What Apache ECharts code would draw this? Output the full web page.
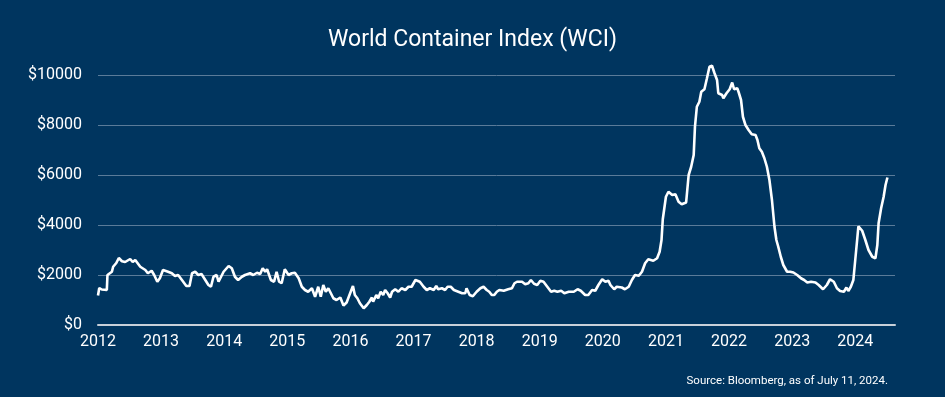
<!DOCTYPE html>
<html>
<head>
<meta charset="utf-8">
<script src="https://cdn.jsdelivr.net/npm/echarts@6/dist/echarts.min.js"></script>
<style>
html,body{margin:0;padding:0;background:#00355f;}
#c{width:945px;height:397px;}
</style>
</head>
<body>
<div id="c"></div>
<script>
// Decimal years (x) and WCI values in USD per 40ft container (y)
const years = [
2012.00,2012.02,2012.06,2012.14,2012.15,2012.22,2012.24,2012.29,2012.33,2012.38,2012.43,2012.51,2012.55,2012.59,2012.67,2012.75,2012.79,2012.85,2012.89,2012.94,2012.98,
2013.03,2013.06,2013.11,2013.17,2013.22,2013.27,2013.33,2013.40,2013.45,2013.49,2013.54,2013.59,2013.64,2013.70,2013.75,2013.79,2013.83,2013.88,2013.91,2013.99,
2014.07,2014.12,2014.17,2014.22,2014.28,2014.33,2014.41,2014.46,2014.52,2014.57,2014.61,2014.65,2014.68,2014.74,2014.79,2014.83,2014.87,2014.91,2014.96,
2015.02,2015.07,2015.12,2015.18,2015.23,2015.28,2015.33,2015.39,2015.44,2015.49,2015.53,2015.57,2015.61,2015.65,2015.69,2015.73,2015.78,2015.84,2015.89,2015.94,
2016.00,2016.04,2016.07,2016.11,2016.15,2016.21,2016.26,2016.30,2016.34,2016.36,2016.41,2016.44,2016.48,2016.52,2016.55,2016.59,2016.63,2016.66,2016.71,2016.76,2016.81,2016.87,2016.92,2016.97,
2017.03,2017.06,2017.10,2017.16,2017.21,2017.26,2017.32,2017.36,2017.39,2017.45,2017.50,2017.54,2017.59,2017.64,2017.71,2017.77,2017.82,2017.84,2017.89,2017.94,
2018.00,2018.06,2018.11,2018.16,2018.20,2018.24,2018.28,2018.32,2018.36,2018.43,2018.50,2018.56,2018.60,2018.64,2018.72,2018.77,2018.82,2018.86,2018.91,2018.96,
2019.01,2019.06,2019.12,2019.18,2019.23,2019.28,2019.34,2019.39,2019.46,2019.54,2019.60,2019.65,2019.72,2019.77,2019.83,2019.88,2019.93,2019.99,
2020.04,2020.09,2020.12,2020.18,2020.22,2020.30,2020.35,2020.41,2020.46,2020.51,2020.57,2020.62,2020.67,2020.72,2020.80,2020.86,2020.90,2020.93,2020.95,2020.97,
2021.00,2021.04,2021.10,2021.15,2021.20,2021.25,2021.32,2021.36,2021.40,2021.44,2021.46,2021.49,2021.53,2021.56,2021.61,2021.65,2021.69,2021.73,2021.77,2021.81,2021.83,2021.89,2021.91,2021.96,
2022.01,2022.05,2022.08,2022.13,2022.15,2022.19,2022.22,2022.26,2022.31,2022.36,2022.42,2022.45,2022.48,2022.52,2022.56,2022.60,2022.64,2022.68,2022.72,2022.75,2022.78,2022.82,2022.86,2022.92,2022.97,
2023.02,2023.08,2023.14,2023.19,2023.24,2023.30,2023.37,2023.42,2023.49,2023.55,2023.60,2023.66,2023.71,2023.76,2023.82,2023.86,2023.89,2023.93,2023.97,
2024.00,2024.03,2024.05,2024.11,2024.16,2024.21,2024.27,2024.32,2024.35,2024.37,2024.41,2024.45,2024.48,2024.51
];
const wci = [
1180,1480,1420,1400,2000,2130,2330,2480,2680,2550,2520,2640,2520,2600,2330,2200,2070,2170,2000,1730,1870,
2200,2270,2130,2070,1960,2000,1800,1560,1560,2070,2130,2000,2040,1800,1600,1530,1930,2000,1730,2130,
2360,2270,1930,1800,1930,2000,2070,2000,2090,2040,2270,2130,2230,1800,1730,2130,1730,1670,2230,
2000,2070,2090,1870,1530,1400,1330,1470,1130,1530,1130,1600,1330,1470,1270,1070,1000,1100,780,900,
1300,1560,1200,1070,870,670,800,930,1100,930,1200,1070,1330,1200,1400,1270,1100,1330,1430,1330,1470,1400,1530,1530,
1800,1830,1730,1530,1400,1470,1400,1560,1430,1470,1400,1530,1530,1400,1330,1270,1270,1470,1200,1150,
1330,1470,1530,1400,1330,1200,1200,1330,1400,1370,1430,1470,1670,1730,1730,1630,1670,1800,1650,1600,
1770,1730,1530,1330,1370,1330,1370,1270,1330,1330,1430,1370,1200,1200,1400,1370,1600,1830,
1730,1770,1600,1430,1530,1500,1430,1530,1800,2000,1970,2130,2470,2630,2570,2670,2930,3400,4230,4300,
5130,5330,5200,5230,4930,4830,4900,6000,6330,6800,7930,8730,8930,9330,9430,9870,10330,10370,10070,9800,9270,9200,9070,9270,
9430,9700,9430,9470,9330,9000,8330,8000,7800,7630,7600,7400,7070,6930,6670,6330,5800,5000,3930,3400,3130,2730,2400,2130,2130,
2100,2000,1870,1800,1700,1730,1700,1600,1430,1600,1830,1730,1470,1360,1330,1500,1360,1530,1800,
2600,3400,3950,3770,3400,3000,2730,2670,3200,4070,4670,5130,5600,5900
];
const yearTicks = [2012,2013,2014,2015,2016,2017,2018,2019,2020,2021,2022,2023,2024];

const chart = echarts.init(document.getElementById('c'), null, {renderer:'canvas'});
const font = 'Roboto, "Liberation Sans", sans-serif';
chart.setOption({
  backgroundColor:'#00355f',
  animation:false,
  title:{
    text:'World Container Index (WCI)',
    left:'center', top:24,
    textStyle:{color:'#ffffff', fontFamily:font, fontWeight:'normal', fontSize:23}
  },
  graphic:[{
    type:'text', right:57, top:375,
    style:{text:'Source: Bloomberg, as of July 11, 2024.', fill:'#ffffff', font:'11.5px ' + font}
  }],
  grid:{left:98, right:50, top:75, bottom:72},
  xAxis:{
    type:'value', min:2012, max:2024.63, interval:1,
    axisLine:{show:true, lineStyle:{color:'#c8d0d9', width:2}},
    axisTick:{show:false},
    splitLine:{show:false},
    axisLabel:{
      color:'#ffffff', fontFamily:font, fontSize:16, margin:9,
      showMaxLabel:false,
      formatter:function(v){ return yearTicks.indexOf(v) >= 0 ? String(v) : ''; }
    }
  },
  yAxis:{
    type:'value', min:0, max:10000, interval:2000,
    axisLine:{show:false}, axisTick:{show:false},
    splitLine:{lineStyle:{color:'#5a7b99', width:1}},
    axisLabel:{color:'#ffffff', fontFamily:font, fontSize:16, margin:16,
      formatter:function(v){ return '$' + v; }}
  },
  series:[{
    type:'line',
    data: years.map(function(y,i){ return [y, wci[i]]; }),
    showSymbol:false,
    clip:false,
    lineStyle:{color:'#ffffff', width:2.6},
    smooth:false
  }]
});
</script>
</body>
</html>
